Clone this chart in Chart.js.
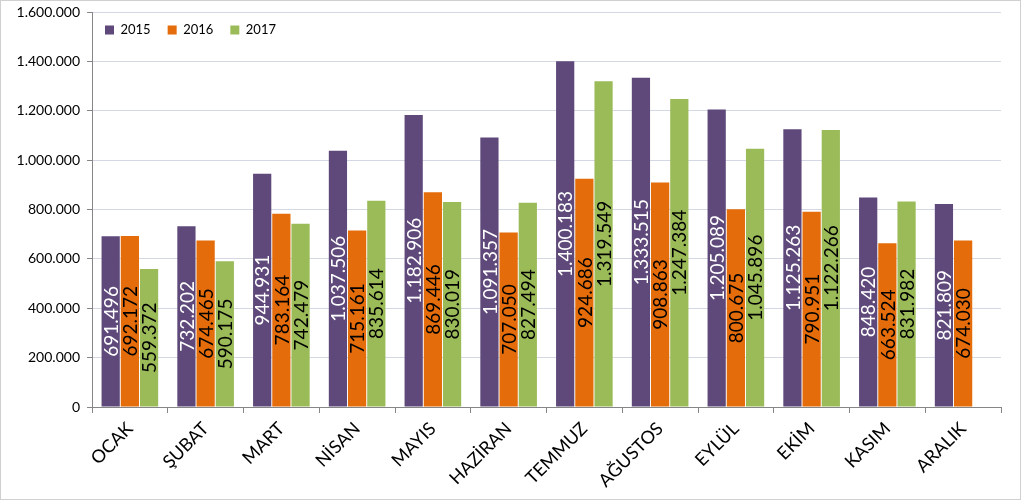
<!DOCTYPE html>
<html>
<head>
<meta charset="utf-8">
<script src="https://cdn.jsdelivr.net/npm/chart.js@4/dist/chart.umd.min.js"></script>
<style>
  html, body { margin: 0; padding: 0; background: #ffffff; }
  #wrap { position: relative; width: 1024px; height: 503px; }
  #frame { position: absolute; left: 0; top: 0; width: 1019px; height: 498px; border: 1px solid #d0d0d0; pointer-events: none; }
</style>
</head>
<body>
<div id="wrap">
  <canvas id="c" width="1024" height="503"></canvas>
  <div id="frame"></div>
</div>
<script>
const categories = ["OCAK", "ŞUBAT", "MART", "NİSAN", "MAYIS", "HAZİRAN", "TEMMUZ", "AĞUSTOS", "EYLÜL", "EKİM", "KASIM", "ARALIK"];
const seriesNames = ["2015", "2016", "2017"];
const values2015 = [691496, 732202, 944931, 1037506, 1182906, 1091357, 1400183, 1333515, 1205089, 1125263, 848420, 821809];
const values2016 = [692172, 674465, 783164, 715161, 869446, 707050, 924686, 908863, 800675, 790951, 663524, 674030];
const values2017 = [559372, 590175, 742479, 835614, 830019, 827494, 1319549, 1247384, 1045896, 1122266, 831982, null];
const yTicks = [0, 200000, 400000, 600000, 800000, 1000000, 1200000, 1400000, 1600000];

const colors = ["#5F497A", "#E46C0A", "#9BBB59"];
const labelColors = ["#ffffff", "#000000", "#000000"];
const FONT = "Lato, 'Open Sans', sans-serif";

function fmt(v) {
  return String(Math.round(v)).replace(/\B(?=(\d{3})+(?!\d))/g, ".");
}

const barLabels = {
  id: "barLabels",
  afterDatasetsDraw(chart) {
    const ctx = chart.ctx;
    chart.data.datasets.forEach((ds, i) => {
      const meta = chart.getDatasetMeta(i);
      meta.data.forEach((bar, j) => {
        const v = ds.data[j];
        if (v == null) return;
        const cy = (bar.y + bar.base) / 2;
        ctx.save();
        ctx.translate(bar.x, cy);
        ctx.rotate(-Math.PI / 2);
        ctx.font = "19px " + FONT;
        ctx.fillStyle = labelColors[i];
        ctx.textAlign = "center";
        ctx.textBaseline = "middle";
        ctx.fillText(fmt(v), 0, 1);
        ctx.restore();
      });
    });
  }
};

// Lay the built-in legend out as a single row inside the plot area (top-left).
const legendRow = {
  id: "legendRow",
  beforeInit(chart) {
    if (chart.legend) chart.legend.isHorizontal = () => true;
  },
  afterLayout(chart) {
    const lg = chart.legend, ca = chart.chartArea;
    if (!lg) return;
    const w = 300, h = 30;
    lg.left = ca.left - 4; lg.right = lg.left + w; lg.width = w;
    lg.top = ca.top - 5.5; lg.bottom = lg.top + h; lg.height = h;
  }
};

new Chart(document.getElementById("c"), {
  type: "bar",
  data: {
    labels: categories,
    datasets: [
      { label: seriesNames[0], data: values2015, backgroundColor: colors[0] },
      { label: seriesNames[1], data: values2016, backgroundColor: colors[1] },
      { label: seriesNames[2], data: values2017, backgroundColor: colors[2] }
    ]
  },
  options: {
    responsive: false,
    animation: false,
    layout: { padding: { left: 0, right: 23, top: 12, bottom: 0 } },
    datasets: { bar: { categoryPercentage: 0.76, barPercentage: 0.95 } },
    plugins: {
      tooltip: { enabled: false },
      legend: {
        position: "chartArea",
        align: "start",
        labels: {
          boxWidth: 9,
          boxHeight: 9,
          padding: 17,
          color: "#000000",
          font: { family: FONT, size: 13 }
        }
      }
    },
    scales: {
      x: {
        grid: { drawOnChartArea: false, drawTicks: true, tickLength: 6, tickColor: "#868686", offset: true },
        border: { color: "#868686" },
        ticks: {
          minRotation: 45, maxRotation: 45, padding: 5,
          color: "#000000",
          font: { family: FONT, size: 18 }
        },
        afterFit(scale) { scale.height = 96; scale.paddingLeft = 0; scale.paddingRight = 0; }
      },
      y: {
        min: 0, max: 1600000,
        afterBuildTicks(scale) { scale.ticks = yTicks.map(v => ({ value: v })); },
        grid: { color: "#d3d8e4", tickColor: "#868686", tickLength: 5 },
        border: { color: "#868686" },
        ticks: {
          padding: 7,
          color: "#000000",
          font: { family: FONT, size: 14 },
          callback: (v) => fmt(v)
        },
        afterFit(scale) { scale.width = 92; scale.paddingTop = 0; scale.paddingBottom = 0; }
      }
    }
  },
  plugins: [barLabels, legendRow]
});
</script>
</body>
</html>
